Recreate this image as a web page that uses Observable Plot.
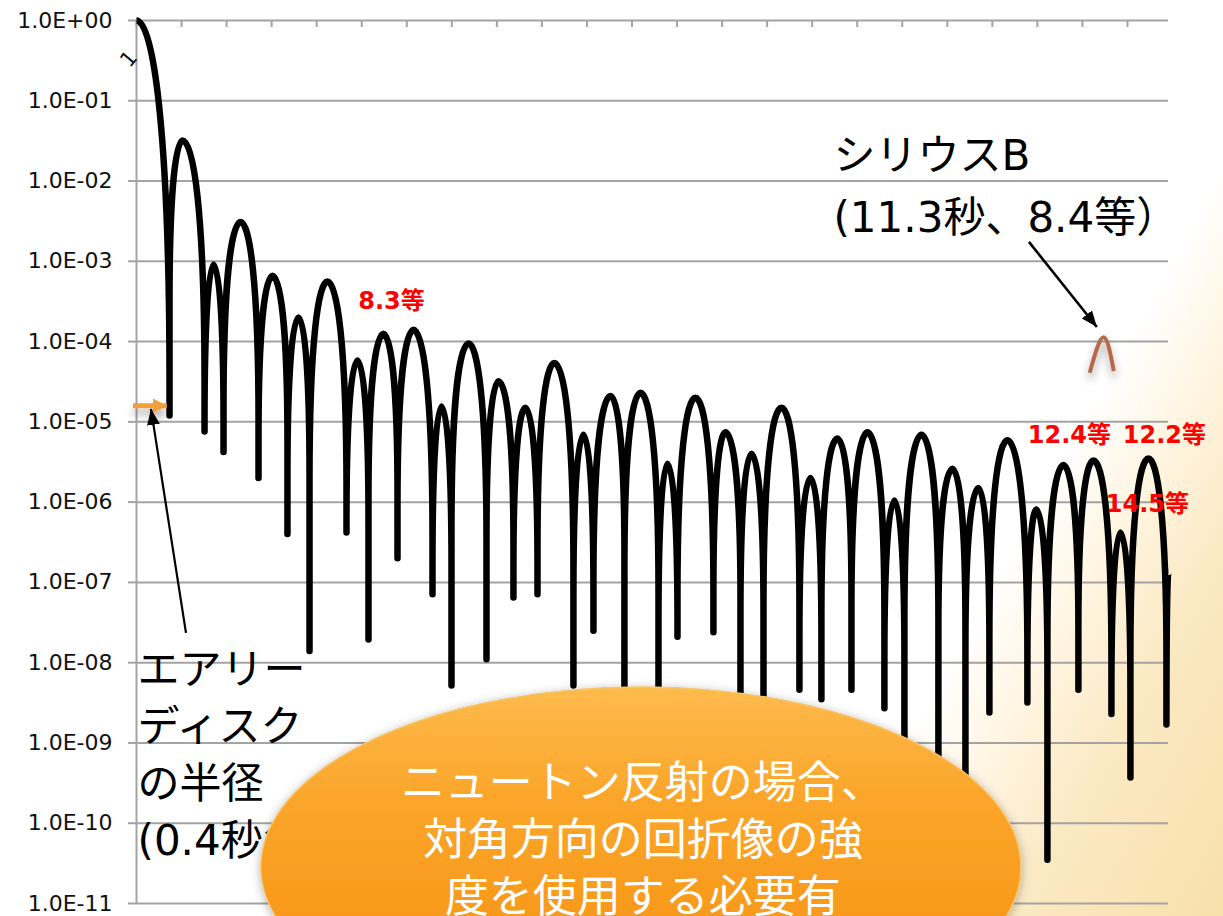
<!DOCTYPE html>
<html lang="ja">
<head>
<meta charset="utf-8">
<script src="https://cdn.jsdelivr.net/npm/d3@7"></script>
<script src="https://cdn.jsdelivr.net/npm/@observablehq/plot@0.6"></script>
<style>
  html, body { margin: 0; padding: 0; }
  body {
    width: 1223px; height: 916px; overflow: hidden;
    background: linear-gradient(119deg, #ffffff 0%, #ffffff 76%, #fff6e4 81%, #fbe9c4 88%, #f8e0aa 100%);
  }
  #chart svg { display: block; }
</style>
</head>
<body>
<div id="chart"></div>
<script>
// Diffraction profile of Sirius A through a Newtonian reflector (diagonal direction).
// x: angular distance from the star in arcseconds, y: relative intensity (log scale).
// Each lobe is given by its peak, followed by the minimum that closes it.
const peakX = [0.000, 0.538, 0.900, 1.215, 1.589, 1.893, 2.232, 2.582, 2.886, 3.237,
               3.564, 3.879, 4.230, 4.545, 4.884, 5.223, 5.539, 5.889, 6.205, 6.532,
               6.883, 7.186, 7.537, 7.876, 8.191, 8.542, 8.857, 9.173, 9.535, 9.839,
               10.178, 10.516, 10.832, 11.183, 11.498, 11.825];
const peakY = [1, 0.032, 9.1e-4, 3.1e-3, 6.6e-4, 2.0e-4, 5.6e-4, 5.8e-5, 1.25e-4, 1.4e-4,
               1.55e-5, 9.5e-5, 3.2e-5, 1.5e-5, 5.4e-5, 6.9e-6, 2.1e-5, 2.3e-5, 3.0e-6, 2.0e-5,
               7.4e-6, 4.0e-6, 1.5e-5, 2.0e-6, 6.2e-6, 7.4e-6, 1.05e-6, 6.9e-6, 2.6e-6, 1.5e-6,
               5.9e-6, 8.1e-7, 2.9e-6, 3.3e-6, 4.2e-7, 3.5e-6];
const minX = [0.386, 0.795, 1.017, 1.426, 1.764, 2.022, 2.454, 2.711, 3.050, 3.459,
              3.681, 4.090, 4.405, 4.686, 5.106, 5.340, 5.702, 6.100, 6.322, 6.742,
              7.058, 7.327, 7.747, 8.004, 8.355, 8.740, 8.974, 9.371, 9.687, 9.967,
              10.411, 10.645, 11.007, 11.393, 11.615, 12.036];
const minY = [1.2e-5, 7.6e-6, 4.2e-6, 2.0e-6, 4.0e-7, 1.4e-8, 4.2e-7, 1.95e-8, 2.0e-7, 7.1e-8,
              5.2e-9, 1.1e-8, 6.5e-8, 7.1e-8, 5.2e-9, 2.5e-8, 1.5e-9, 1.5e-9, 2.1e-8, 2.4e-8,
              1.0e-9, 1.0e-9, 4.6e-9, 3.5e-9, 4.6e-9, 2.7e-9, 3.0e-10, 3.0e-10, 2.0e-10, 2.4e-9,
              3.2e-9, 3.5e-11, 4.6e-9, 2.3e-9, 3.7e-10, 1.7e-9];
const tailX = 12.059, tailY = 1.35e-7;

// Sirius B, seen as a small bump on top of the profile
const siriusX = [11.14, 11.30, 11.42];
const siriusY = [4.1e-5, 1.13e-4, 4.3e-5];

// Lobes tagged with their magnitude, and where each tag sits relative to its peak (px)
const taggedLobes = [8, 32, 35, 34];
const tagDx = [8, 6, 16, 27];
const tagDy = [-32, -30, -23, -28];

// Axis ticks
const yTicks = d3.range(0, -12, -1).map(e => 10 ** e);
const xTickStep = 0.5264;
const xTicks = d3.range(0, 12.06, xTickStep);

const SIRIUS_A_MAG = -1.46;
const magnitude = I => SIRIUS_A_MAG - 2.5 * Math.log10(I);

const profile = [];
peakX.forEach((x, i) => {
  profile.push({x, y: peakY[i]});
  profile.push({x: minX[i], y: minY[i]});
});
profile.push({x: tailX, y: tailY});

const sirius = siriusX.map((x, i) => ({x, y: siriusY[i]}));
const tags = taggedLobes.map((k, i) => ({
  x: peakX[k], y: peakY[k], text: `${magnitude(peakY[k]).toFixed(1)}等`, dx: tagDx[i], dy: tagDy[i]
}));
const siriusPeak = d3.maxIndex(siriusY);
const siriusText = `シリウスB\n(${siriusX[siriusPeak].toFixed(1)}秒、${magnitude(siriusY[siriusPeak]).toFixed(1)}等）`;
const airyText = `エアリー\nディスク\nの半径\n(${minX[0].toFixed(1)}秒角)`;

// Lobe curve: from a minimum the line climbs straight up, then rounds over into the peak.
const RISE = 160, K = 11, A = 0.3, B = 0.5;
function lobeCurve(context) {
  let pts;
  return {
    areaStart() {}, areaEnd() {},
    lineStart() { pts = []; },
    point(x, y) { pts.push([+x, +y]); },
    lineEnd() {
      if (!pts.length) return;
      context.moveTo(pts[0][0], pts[0][1]);
      for (let i = 1; i < pts.length; ++i) {
        const [x0, y0] = pts[i - 1], [x1, y1] = pts[i];
        const dx = x1 - x0;
        if (y1 < y0) { // rising
          const depth = y0 - y1, R = Math.min(depth, Math.max(RISE, K * Math.abs(dx)));
          if (depth > R) context.lineTo(x0, y1 + R);
          context.bezierCurveTo(x0, y1 + A * R, x1 - B * dx, y1, x1, y1);
        } else { // falling
          const depth = y1 - y0, R = Math.min(depth, Math.max(RISE, K * Math.abs(dx)));
          context.bezierCurveTo(x0 + B * dx, y0, x1, y0 + A * R, x1, y0 + R);
          if (depth > R) context.lineTo(x1, y1);
        }
      }
    }
  };
}

const grey = "#a3a3a3";
const siriusColor = "#b8694b";
const latinCjk = "'DejaVu Sans', 'Noto Sans CJK JP', sans-serif";
const tickFormat = d => {
  const e = Math.round(Math.log10(d));
  return `1.0E${e < 0 ? "-" : "+"}${String(Math.abs(e)).padStart(2, "0")}`;
};

const chart = Plot.plot({
  width: 1223,
  height: 916,
  marginLeft: 136,
  marginRight: 55,
  marginTop: 20,
  marginBottom: 13,
  style: {background: "transparent", fontFamily: latinCjk, fontSize: "22px", color: "#000", overflow: "visible"},
  x: {domain: [0, 12.06], axis: null},
  y: {type: "log", domain: [1e-11, 1], axis: null},
  marks: [
    Plot.gridY(yTicks, {stroke: grey, strokeOpacity: 1, strokeWidth: 2}),
    Plot.ruleX([0], {stroke: grey, strokeWidth: 2}),
    Plot.tickX(xTicks, {x: d => d, stroke: grey, strokeWidth: 2, insetBottom: 876}),
    Plot.axisY(yTicks, {
      tickSize: 8, tickPadding: 16, tickFormat, stroke: grey, strokeWidth: 2,
      fill: "#111", fontSize: 22, fontFamily: "'DejaVu Sans', sans-serif", label: null
    }),
    Plot.text(["1"], {x: -0.09, y: 0.33, text: d => d, rotate: -50, fontSize: 21, fill: "#111"}),
    Plot.text([airyText], {
      x: 0, y: 7.9e-10, text: d => d, dx: 1, textAnchor: "start", lineHeight: 1.36,
      fontSize: 42, fontFamily: latinCjk, fill: "#000"
    }),
    Plot.line(profile, {
      x: "x", y: "y", curve: lobeCurve, stroke: "#000", strokeWidth: 6.5,
      strokeLinejoin: "round", strokeLinecap: "butt"
    }),
    Plot.line(sirius, {
      x: "x", y: "y", curve: "natural", stroke: siriusColor, strokeWidth: 4,
      strokeLinecap: "butt", strokeLinejoin: "round"
    }),
    ...tags.map(t => Plot.text([t], {
      x: "x", y: "y", text: "text", dx: t.dx, dy: t.dy,
      fill: "#ff0000", fontWeight: "bold", fontSize: 24, fontFamily: latinCjk
    })),
    Plot.text([siriusText], {
      x: 8.145, y: 0.0099, text: d => d, textAnchor: "start", lineHeight: 1.48,
      fontSize: 42, fontFamily: latinCjk, fill: "#000"
    })
  ]
});
document.getElementById("chart").append(chart);

// Annotations on top of the plot: arrows and the callout
const sx = chart.scale("x"), sy = chart.scale("y");
const X = v => sx.apply(v), Y = v => sy.apply(v);
const svg = d3.select(chart);
const defs = svg.append("defs");

const shadow = defs.append("filter").attr("id", "soft-shadow")
  .attr("filterUnits", "userSpaceOnUse")
  .attr("x", 0).attr("y", 0).attr("width", 1223).attr("height", 916);
shadow.append("feDropShadow").attr("dx", 0).attr("dy", 6).attr("stdDeviation", 4)
  .attr("flood-color", "#000").attr("flood-opacity", 0.35);

const calloutShadow = defs.append("filter").attr("id", "callout-shadow")
  .attr("filterUnits", "userSpaceOnUse")
  .attr("x", 0).attr("y", 0).attr("width", 1223).attr("height", 916);
calloutShadow.append("feDropShadow").attr("dx", 0).attr("dy", 2).attr("stdDeviation", 5)
  .attr("flood-color", "#000").attr("flood-opacity", 0.3);

const grad = defs.append("linearGradient").attr("id", "callout-fill")
  .attr("x1", 0).attr("y1", 0).attr("x2", 0).attr("y2", 1);
grad.append("stop").attr("offset", "0%").attr("stop-color", "#fdbb4c");
grad.append("stop").attr("offset", "30%").attr("stop-color", "#fba62b");
grad.append("stop").attr("offset", "65%").attr("stop-color", "#f8991a");
grad.append("stop").attr("offset", "100%").attr("stop-color", "#f59015");

function head(id, color, len, wid) {
  defs.append("marker").attr("id", id)
    .attr("markerUnits", "userSpaceOnUse")
    .attr("markerWidth", len).attr("markerHeight", wid)
    .attr("refX", len).attr("refY", wid / 2)
    .attr("orient", "auto")
    .append("path").attr("d", `M0,0L${len},${wid / 2}L0,${wid}Z`).attr("fill", color);
}
head("head-black", "#000", 16, 13);
head("head-orange", "#f2a03a", 14, 15);

// Soft shadow under the Sirius B bump
svg.selectAll("g").filter(function() { return this.getAttribute("stroke") === siriusColor; })
  .attr("filter", "url(#soft-shadow)");

// Airy disk radius: arrow from the label to the first minimum, orange marker at its level
const airyArrow = {x1: 0.584, y1: 2.32e-8, x2: 0.175, y2: 1.43e-5};
const orangeArrow = {x1: -0.035, x2: 0.36, y: 1.56e-5};
const siriusArrow = {x1: 10.435, y1: 1.72e-3, x2: 11.229, y2: 1.5e-4};

svg.append("line")
  .attr("x1", X(orangeArrow.x1)).attr("y1", Y(orangeArrow.y))
  .attr("x2", X(orangeArrow.x2)).attr("y2", Y(orangeArrow.y))
  .attr("stroke", "#f2a03a").attr("stroke-width", 5)
  .attr("marker-end", "url(#head-orange)").attr("filter", "url(#soft-shadow)");

svg.append("line")
  .attr("x1", X(airyArrow.x1)).attr("y1", Y(airyArrow.y1))
  .attr("x2", X(airyArrow.x2)).attr("y2", Y(airyArrow.y2))
  .attr("stroke", "#000").attr("stroke-width", 2.2)
  .attr("marker-end", "url(#head-black)");

svg.append("line")
  .attr("x1", X(siriusArrow.x1)).attr("y1", Y(siriusArrow.y1))
  .attr("x2", X(siriusArrow.x2)).attr("y2", Y(siriusArrow.y2))
  .attr("stroke", "#000").attr("stroke-width", 2.6)
  .attr("marker-end", "url(#head-black)");

// Callout bubble
const callout = {x: 5.90, y: 2.8e-11, rx: 380, ry: 180};
const calloutLines = ["ニュートン反射の場合、", "対角方向の回折像の強", "度を使用する必要有"];
const cx = X(callout.x), cy = Y(callout.y);
svg.append("ellipse")
  .attr("cx", cx).attr("cy", cy).attr("rx", callout.rx).attr("ry", callout.ry)
  .attr("fill", "url(#callout-fill)").attr("stroke", "#f7c56e").attr("stroke-width", 1.5)
  .attr("filter", "url(#callout-shadow)");
svg.append("g")
  .attr("font-family", "'Noto Sans CJK JP', sans-serif")
  .attr("font-size", 44).attr("fill", "#fff").attr("text-anchor", "middle")
  .selectAll("text").data(calloutLines).join("text")
  .attr("x", cx + 2).attr("y", (d, i) => cy - 85 + i * 57)
  .attr("dy", "0.36em")
  .text(d => d);
</script>
</body>
</html>
